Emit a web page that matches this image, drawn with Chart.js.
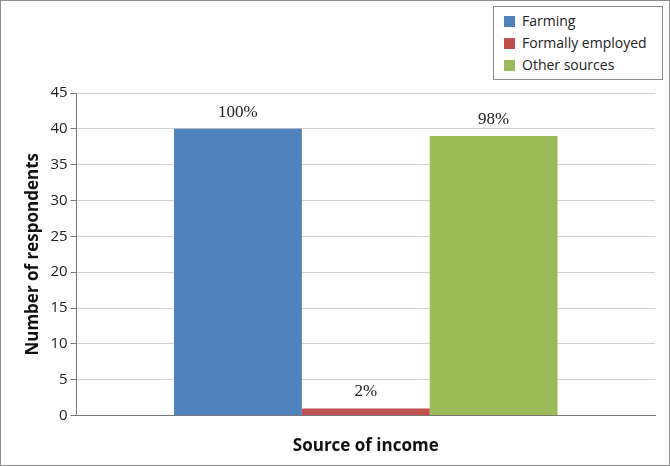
<!DOCTYPE html>
<html>
<head>
<meta charset="utf-8">
<script src="https://cdn.jsdelivr.net/npm/chart.js@4"></script>
<style>
  body { margin: 0; background: #fff; }
  #wrap { position: relative; width: 668px; height: 464px; border: 1px solid #8c8c8c; }
  #legend { position: absolute; left: 492px; top: 5px; width: 168px; border: 1px solid #8c8c8c; background: #fff;
    font: 14px "Open Sans", sans-serif; color: #222; padding: 3px 0; }
  #legend div { height: 22px; line-height: 22px; padding-left: 10px; }
  #legend span { display: inline-block; width: 11px; height: 11px; margin-right: 7px; vertical-align: -1px; }
</style>
</head>
<body>
<div id="wrap">
  <canvas id="chart" width="668" height="464"></canvas>
  <div id="legend"></div>
</div>
<script>
const categories = ["Source of income"];
const seriesNames = ["Farming", "Formally employed", "Other sources"];
const seriesValues = [40, 1, 39];
const seriesLabels = ["100%", "2%", "98%"];
const colors = ["#4f81bd", "#c0504d", "#9bbb59"];

// legenda
document.getElementById('legend').innerHTML = seriesNames
  .map((n, i) => `<div><span style="background:${colors[i]}"></span>${n}</div>`).join('');

const labelPlugin = {
  id: 'barLabels',
  afterDatasetsDraw(chart) {
    const ctx = chart.ctx;
    ctx.save();
    ctx.font = '17px "Liberation Serif", serif';
    ctx.fillStyle = '#222';
    ctx.textAlign = 'center';
    ctx.textBaseline = 'bottom';
    chart.data.datasets.forEach((ds, i) => {
      const bar = chart.getDatasetMeta(i).data[0];
      ctx.fillText(seriesLabels[i], bar.x, bar.y - 8);
    });
    ctx.restore();
  }
};

new Chart(document.getElementById('chart').getContext('2d'), {
  type: 'bar',
  data: {
    labels: categories,
    datasets: seriesNames.map((n, i) => ({
      label: n,
      data: [seriesValues[i]],
      backgroundColor: colors[i],
      categoryPercentage: 0.663,
      barPercentage: 1
    }))
  },
  options: {
    responsive: false,
    animation: false,
    layout: { padding: { top: 92, right: 14, left: 18, bottom: 5 } },
    plugins: { legend: { display: false }, tooltip: { enabled: false } },
    scales: {
      x: {
        grid: { display: false, drawTicks: true },
        border: { color: '#777' },
        ticks: { display: false },
        title: { display: true, text: 'Source of income', color: '#111',
          font: { family: 'Open Sans', size: 17, weight: 'bold' }, padding: { top: 12 } }
      },
      y: {
        min: 0, max: 45,
        ticks: { stepSize: 5, color: '#222', font: { family: 'Open Sans', size: 15 } },
        grid: { color: '#d0d0d0', tickColor: '#777', tickLength: 6 },
        border: { color: '#777' },
        title: { display: true, text: 'Number of respondents', color: '#111',
          font: { family: 'Open Sans', size: 17, weight: 'bold' } }
      }
    }
  },
  plugins: [labelPlugin]
});
</script>
</body>
</html>
